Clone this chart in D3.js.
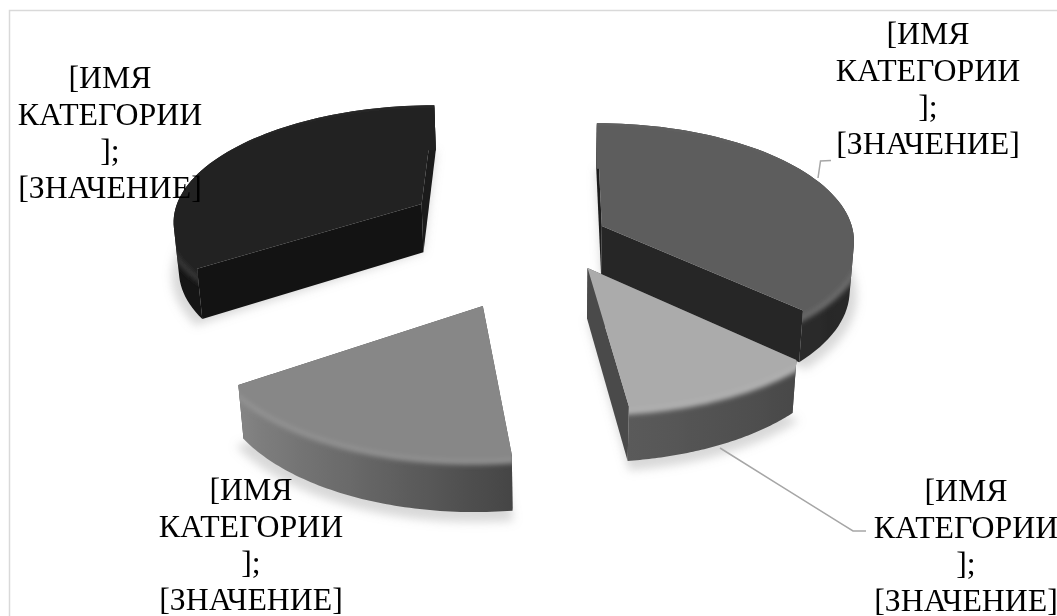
<!DOCTYPE html>
<html>
<head>
<meta charset="utf-8">
<script src="https://cdn.jsdelivr.net/npm/d3@7"></script>
<style>
  html, body { margin: 0; padding: 0; background: #fff; overflow: hidden; }
  text { font-family: "Liberation Serif", serif; font-size: 31.8px; fill: #000; }
</style>
</head>
<body>
<div id="chart"></div>
<script>
// Data
const categories = ['top right', 'bottom right', 'bottom left', 'top left'];
const values = [37, 11, 17.6, 34.4];
const explosion = [0.217, 0.301, 0.62, 0.604];
const labelLines = ['[ИМЯ', 'КАТЕГОРИИ', '];', '[ЗНАЧЕНИЕ]'];

// Colours per slice
const topColors = ['#5d5d5d', '#ababab', '#878787', '#232323'];
const rimColors = [['#2c2c2c', '#272727'], ['#484848', '#5a5a5a'], ['#454545', '#6a6a6a', '#858585'], ['#141414', '#161616']];
const startFaceColors = ['#1d1d1d', '#4a4a4a', '#4a4a4a', '#131313'];
const endFaceColors = ['#262626', '#4a4a4a', '#4a4a4a', '#1b1b1b'];

// Dimensions
const width = 1057;
const height = 616;
const view = { cx: 552, cy: 285.3, radius: 248.8, tilt: 0.4925, persp: 0.1261, squash: 0.98, depth: 0.2293 };
const labelPos = [
  { x: 928, y: 44 },
  { x: 966, y: 501 },
  { x: 251, y: 500 },
  { x: 110, y: 88 },
];
const lineStep = 36.5;
const leaders = [
  [[818, 178], [820.5, 161], [831, 160.5]],
  [[720, 448], [853, 531], [866, 531]],
];

const svg = d3.select('#chart')
  .append('svg')
  .attr('width', width)
  .attr('height', height);

const defs = svg.append('defs');
function blurFilter(id, amount) {
  defs.append('filter')
    .attr('id', id)
    .attr('filterUnits', 'userSpaceOnUse')
    .attr('x', 0).attr('y', 0).attr('width', width).attr('height', height)
    .append('feGaussianBlur')
    .attr('stdDeviation', amount);
}
blurFilter('soft', 5);
blurFilter('edge', 2.6);

// chart frame runs off the right and bottom of the page
svg.append('rect')
  .attr('x', 9.5)
  .attr('y', 10.5)
  .attr('width', width + 20)
  .attr('height', height + 20)
  .attr('fill', 'none')
  .attr('stroke', '#d9d9d9')
  .attr('stroke-width', 1.5);

const slices = d3.pie().sort(null).value(d => d)(values);

// ground plane to screen, u to the right, v away from the viewer, h up
const cosTilt = Math.sqrt(1 - view.tilt * view.tilt);
function project(u, v, h) {
  const z = 1 + view.persp * (v * cosTilt - h * view.tilt);
  return [
    view.cx + view.radius * u / z,
    view.cy - view.radius * view.squash * (v * view.tilt + h * cosTilt) / z,
  ];
}

const line = d3.line();

slices.forEach((d, i) => {
  const mid = (d.startAngle + d.endAngle) / 2;
  d.mid = mid;
  d.ox = explosion[i] * Math.sin(mid);
  d.oy = explosion[i] * Math.cos(mid);
  d.angle = d3.scaleLinear().domain([0, 1]).range([d.startAngle, d.endAngle]);
  d.rim = d3.scaleLinear()
    .domain(d3.range(rimColors[i].length).map(k => k / (rimColors[i].length - 1)))
    .range(rimColors[i])
    .interpolate(d3.interpolateRgb);
});

function onRing(d, t, r, h) {
  const a = d.angle(t);
  return project(d.ox + r * Math.sin(a), d.oy + r * Math.cos(a), h);
}
const ts = d3.range(65).map(k => k / 64);
function ring(d, r, h, from = 0, to = 1) {
  return ts.map(t => onRing(d, from + t * (to - from), r, h));
}
function apex(d, h) {
  return project(d.ox, d.oy, h);
}

// the wall as one quad per arc step, all wound the same way so they fill as a union
function wallQuads(upper, lower) {
  return d3.range(upper.length - 1).map(k => {
    const quad = [upper[k], upper[k + 1], lower[k + 1], lower[k]];
    return line(d3.polygonArea(quad) < 0 ? quad.reverse() : quad) + 'Z';
  }).join('');
}

// left-to-right gradient that follows a colour along an arc
let gradId = 0;
function arcGradient(points, colorAt) {
  const id = 'g' + (gradId++);
  const xs = points.map(p => p[0]);
  const [x0, x1] = d3.extent(xs);
  const grad = defs.append('linearGradient')
    .attr('id', id)
    .attr('gradientUnits', 'userSpaceOnUse')
    .attr('x1', x0).attr('x2', x1)
    .attr('y1', 0).attr('y2', 0);
  const order = d3.range(points.length).sort((a, b) => xs[a] - xs[b]);
  order.filter((_, k) => k % 4 === 0 || k === order.length - 1).forEach(k => {
    grad.append('stop')
      .attr('offset', (xs[k] - x0) / (x1 - x0))
      .attr('stop-color', colorAt(ts[k]));
  });
  return `url(#${id})`;
}

// soft shadows sit under every slice
const shadows = svg.append('g').attr('filter', 'url(#soft)');
slices.forEach(d => {
  shadows.append('path')
    .attr('d', line([apex(d, 0), ...ring(d, 1.03, -0.02)]) + 'Z')
    .attr('fill', '#999')
    .attr('opacity', 0.38);
});

// back slices first so the front ones cover them
const drawOrder = [3, 0, 2, 1];
drawOrder.forEach(i => {
  const d = slices[i];
  const g = svg.append('g').attr('class', 'slice').attr('data-name', categories[i]);
  const topH = view.depth;

  // cut faces
  g.append('path')
    .attr('d', line([apex(d, topH), onRing(d, 0, 1, topH), onRing(d, 0, 1, 0), apex(d, 0)]) + 'Z')
    .attr('fill', startFaceColors[i]);
  g.append('path')
    .attr('d', line([apex(d, topH), onRing(d, 1, 1, topH), onRing(d, 1, 1, 0), apex(d, 0)]) + 'Z')
    .attr('fill', endFaceColors[i]);

  // outer wall
  const wallTop = ring(d, 1, topH);
  const wallPath = wallQuads(wallTop, ring(d, 1, 0));
  g.append('path')
    .attr('d', wallPath)
    .attr('fill', arcGradient(wallTop, d.rim));

  // top face is painted a little oversized and blurred, then clipped back,
  // which leaves the cut edges crisp and a soft rounded edge over the wall
  const clipId = 'clip' + i;
  const clip = defs.append('clipPath').attr('id', clipId);
  clip.append('path').attr('d', line([apex(d, topH), ...wallTop]) + 'Z');
  clip.append('path').attr('d', wallPath);

  const spread = 0.3 / (d.endAngle - d.startAngle);
  const back = project(d.ox - 0.3 * Math.sin(d.mid), d.oy - 0.3 * Math.cos(d.mid), topH);
  const soft = g.append('g')
    .attr('clip-path', `url(#${clipId})`)
    .append('g')
    .attr('filter', 'url(#edge)');
  soft.append('path')
    .attr('d', line([back, ...ring(d, 1.05, topH, -spread, 1 + spread)]) + 'Z')
    .attr('fill', topColors[i]);
  soft.append('path')
    .attr('d', line(ring(d, 1.035, topH, -spread, 1 + spread)))
    .attr('fill', 'none')
    .attr('stroke', d3.interpolateRgb(topColors[i], '#fff')(0.14))
    .attr('stroke-width', 3);
});

// leader lines
leaders.forEach(pts => {
  svg.append('path')
    .attr('d', line(pts))
    .attr('fill', 'none')
    .attr('stroke', '#a6a6a6')
    .attr('stroke-width', 1.5);
});

// data labels
categories.forEach((c, i) => {
  labelLines.forEach((t, k) => {
    svg.append('text')
      .attr('x', labelPos[i].x)
      .attr('y', labelPos[i].y + k * lineStep)
      .attr('text-anchor', 'middle')
      .text(t);
  });
});
</script>
</body>
</html>
